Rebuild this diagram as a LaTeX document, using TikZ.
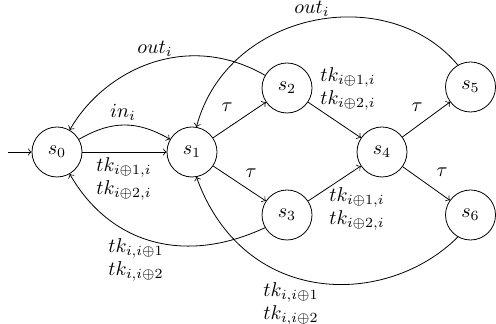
\documentclass[tikz,border=0pt]{standalone}
\usetikzlibrary{arrows}
\begin{document}
\begin{tikzpicture}[x=0.5pt,y=0.5pt,
  statenode/.style={circle,draw,minimum size=25pt,inner sep=0pt},
  lbl/.style={inner sep=0pt,align=center},
  edge/.style={->}]
\useasboundingbox (0,0) rectangle (496,-324);
\node[statenode] (s0) at (57,-152) {$s_0$};
\node[statenode] (s1) at (192,-152) {$s_1$};
\node[statenode] (s2) at (287,-88) {$s_2$};
\node[statenode] (s3) at (287,-215) {$s_3$};
\node[statenode] (s4) at (382,-152) {$s_4$};
\node[statenode] (s5) at (470.5,-87) {$s_5$};
\node[statenode] (s6) at (470.5,-215) {$s_6$};
\coordinate (init) at (8,-152);

\draw[edge] (init) -- (s0.west);
\draw[edge] (s0.east) -- (s1.west);
\draw[edge] (s0.30) .. controls +(30:19pt) and +(150:19pt) .. (s1.150);
\draw[edge] (s1) -- (s2);
\draw[edge] (s1) -- (s3);
\draw[edge] (s2) -- (s4);
\draw[edge] (s3) -- (s4);
\draw[edge] (s4) -- (s5);
\draw[edge] (s4) -- (s6);
\draw[edge] (s2.150) .. controls +(150:45pt) and +(60:35pt) .. (s0.60);
\draw[edge] (s5.120) .. controls +(130:55pt) and +(75:60pt) .. (s1.80);
\draw[edge] (s3.210) .. controls +(205:45pt) and +(300:40pt) .. (s0.300);
\draw[edge] (s6.240) .. controls +(225:50pt) and +(290:70pt) .. (s1.280);

\node[lbl] (lin) at (123,-112) {$in_i$};
\node[lbl] (l01) at (124,-178.5) {$tk_{i\oplus1,i}$\\[-0.5pt]$tk_{i\oplus2,i}$};
\node[lbl] (lout20) at (155,-49) {$out_i$};
\node[lbl] (lout51) at (312,-9) {$out_i$};
\node[lbl] (lt12) at (227,-107) {$\tau$};
\node[lbl] (lt13) at (251,-173) {$\tau$};
\node[lbl] (lt45) at (417,-107) {$\tau$};
\node[lbl] (lt46) at (442,-172) {$\tau$};
\node[lbl] (l24) at (348,-88.5) {$tk_{i\oplus1,i}$\\[-0.5pt]$tk_{i\oplus2,i}$};
\node[lbl] (l34) at (357,-208.5) {$tk_{i\oplus1,i}$\\[-0.5pt]$tk_{i\oplus2,i}$};
\node[lbl] (l30) at (136,-259.5) {$tk_{i,i\oplus1}$\\[-0.5pt]$tk_{i,i\oplus2}$};
\node[lbl] (l61) at (291,-303.7) {$tk_{i,i\oplus1}$\\[-0.5pt]$tk_{i,i\oplus2}$};
\end{tikzpicture}
\end{document}
